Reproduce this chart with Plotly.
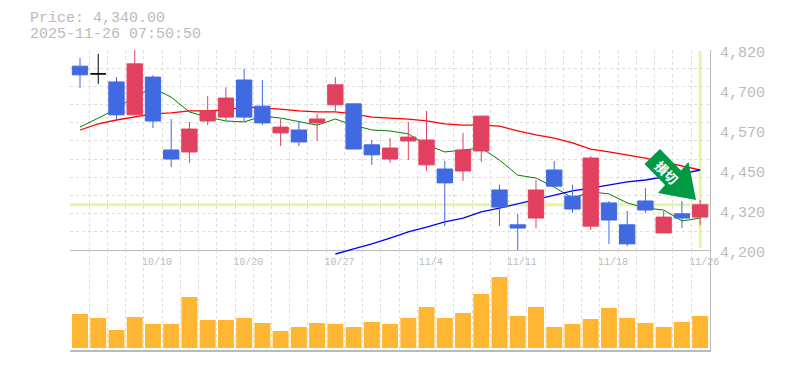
import plotly.graph_objects as go

W, H = 785, 370
ML, MR, MT, MB = 70, 75, 50, 20

dates = ["10/6","10/7","10/8","10/9","10/10","10/14","10/15","10/16","10/17","10/20",
         "10/21","10/22","10/23","10/24","10/27","10/28","10/29","10/30","10/31","11/4",
         "11/5","11/6","11/7","11/10","11/11","11/12","11/13","11/14","11/17","11/18",
         "11/19","11/20","11/21","11/25","11/26"]
labelled_dates = ["10/10","10/20","10/27","11/4","11/11","11/18","11/26"]

opens  = [4770,4746,4721,4619,4736,4510,4504,4600,4612,4727,4646,4563,4572,4594,4650,4653,4526,4482,4538,4464,
          4451,4445,4507,4386,4278,4299,4448,4367,4274,4346,4278,4352,4253,4312,4302]
highs  = [4795,4808,4736,4824,4742,4606,4597,4677,4705,4761,4727,4606,4600,4622,4736,4653,4541,4547,4597,4631,
          4476,4563,4615,4402,4312,4417,4476,4402,4491,4352,4321,4392,4321,4352,4355]
lows   = [4702,4715,4603,4619,4578,4457,4470,4587,4603,4600,4587,4522,4522,4538,4628,4513,4464,4470,4479,4445,
          4274,4414,4473,4274,4200,4268,4398,4315,4262,4219,4212,4315,4253,4268,4277]
closes = [4743,4746,4619,4777,4600,4482,4575,4631,4671,4612,4594,4581,4535,4606,4712,4513,4495,4516,4550,4541,
          4408,4510,4615,4333,4268,4386,4398,4327,4485,4293,4219,4324,4302,4299,4340]

ma_green = [4581,4609,4637,4677,4702,4674,4628,4612,4600,4597,4615,4609,4597,4587,4606,4587,4572,4569,4560,4526,
            4504,4510,4516,4479,4432,4423,4395,4361,4380,4374,4346,4330,4324,4290,4299]
ma_red   = [4572,4591,4603,4612,4622,4625,4631,4631,4634,4643,4640,4637,4631,4628,4628,4622,4612,4609,4606,4600,
            4591,4587,4587,4584,4569,4557,4547,4532,4513,4504,4495,4485,4473,4460,4448]
ma_blue  = [4188,4203,4219,4237,4256,4271,4287,4299,4318,4330,4343,4355,4370,4383,4392,4402,4411,4417,4426,4436,4448]
ma_blue_start = 14
# the start of the blue line dips just under the price panel, over the top of the volume panel
ma_blue_tail = [94, 99]

volumes = [34,30,18,31,24,24,51,28,28,30,25,17,21,25,24,21,26,24,30,41,30,35,54,71,32,41,21,24,29,40,30,25,21,26,32]

price_ticks = [4200,4324,4448,4572,4696,4820]
price_labels = ["4,200","4,320","4,450","4,570","4,700","4,820"]
price_title = "Price: 4,340.00"
time_title = "2025-11-26 07:50:50"
last_price = 4340

GRID = "#DDDDDD"
FRAME = "#BBBBBB"
TXT = "#BBBBBB"
UP = "#E1415F"
DOWN = "#4169E1"
MONO = "Liberation Mono, monospace"

idx = list(range(len(dates)))
up = [i for i in idx if closes[i] > opens[i]]
down = [i for i in idx if closes[i] < opens[i]]
flat = [i for i in idx if closes[i] == opens[i]]

fig = go.Figure()

fig.add_trace(go.Bar(x=idx, y=volumes, width=0.875, marker=dict(color="#FFB733", line_width=0),
                     xaxis="x2", yaxis="y2", hoverinfo="skip"))
fig.add_trace(go.Scatter(x=idx, y=ma_green, mode="lines", line=dict(color="#008000", width=1)))
fig.add_trace(go.Scatter(x=idx, y=ma_red, mode="lines", line=dict(color="#FF0000", width=1.3)))
fig.add_trace(go.Scatter(x=idx[ma_blue_start:], y=ma_blue, mode="lines", line=dict(color="#0000FF", width=1.3)))
fig.add_trace(go.Scatter(x=idx[ma_blue_start:ma_blue_start + 2], y=ma_blue_tail, mode="lines",
                         line=dict(color="#0000FF", width=1.3), xaxis="x2", yaxis="y2"))

def candles(sel, color):
    fig.add_trace(go.Candlestick(
        x=sel,
        open=[opens[i] for i in sel], high=[highs[i] for i in sel],
        low=[lows[i] for i in sel], close=[closes[i] for i in sel],
        increasing=dict(line=dict(color=color, width=1), fillcolor=color),
        decreasing=dict(line=dict(color=color, width=1), fillcolor=color),
        whiskerwidth=0, yaxis="y3"))

candles(up, UP)
candles(down, DOWN)
candles(flat, "#000000")

grid_x = [i - 0.5 for i in range(len(dates) + 1)]
x_text = [dates[i] if dates[i] in labelled_dates else "" for i in idx]
tick_x = [i + 0.5 for i in idx]
x_range = [-0.548, 34.54]

def px_x(v):
    return (v - ML) / (W - ML - MR)

def px_y(v):
    return (H - MB - v) / (H - MT - MB)

arrow_px = [(660,149),(644.5,164),(665,185),(658,193),(696,200),(688.5,162),(681,170.5)]
arrow_path = "M " + " L ".join(f"{px_x(a):.5f},{px_y(b):.5f}" for a, b in arrow_px) + " Z"

price_annotations = [
    dict(text=t, xref="paper", yref="y", x=px_x(718), y=v, yshift=-3, xanchor="left", yanchor="middle",
         showarrow=False, font=dict(size=15, color=TXT, family=MONO))
    for t, v in zip(price_labels, price_ticks)
]

fig.update_layout(
    width=W, height=H, showlegend=False, paper_bgcolor="white", plot_bgcolor="white",
    margin=dict(l=ML, r=MR, t=MT, b=MB, pad=0),
    boxmode="overlay", boxgap=0.16, boxgroupgap=0,
    font=dict(family=MONO, color=TXT),
    xaxis=dict(domain=[0, 1], range=x_range, anchor="y", rangeslider=dict(visible=False), automargin=False,
               tickmode="array", tickvals=tick_x, ticktext=x_text, ticks="", ticklen=0,
               tickangle=0, tickfont=dict(size=10, color=TXT, family=MONO), ticklabelshift=-5,
               ticklabelstandoff=2,
               showgrid=True, gridcolor=GRID, griddash="3px,3px", gridwidth=1,
               minor=dict(tickmode="array", tickvals=grid_x, showgrid=True, gridcolor=GRID,
                          griddash="3px,3px", gridwidth=1, ticks=""),
               showline=True, linecolor=FRAME, linewidth=1, zeroline=False),
    xaxis2=dict(domain=[0, 1], range=x_range, anchor="y2", showticklabels=False, automargin=False,
                tickmode="array", tickvals=grid_x, ticks="",
                showgrid=True, gridcolor=GRID, griddash="3px,3px", gridwidth=1,
                showline=True, linecolor=FRAME, linewidth=2, zeroline=False),
    yaxis=dict(domain=[1/3, 1], range=[4200, 4820], side="right", anchor="x", automargin=False,
               tickmode="array", tickvals=price_ticks, ticks="", showticklabels=False, showgrid=False,
               minor=dict(tickmode="array", tickvals=[4200 + 620 * k / 11 for k in range(12)],
                          showgrid=True, gridcolor=GRID, griddash="3px,3px", gridwidth=1, ticks=""),
               showline=True, linecolor=FRAME, linewidth=1, zeroline=False),
    yaxis3=dict(overlaying="y", range=[4200, 4820], side="right", anchor="x", automargin=False,
                showticklabels=False, ticks="", showgrid=False, showline=False, zeroline=False),
    yaxis2=dict(domain=[0, 1/3], range=[-2, 98], side="right", anchor="x2", showticklabels=False, automargin=False,
                ticks="", showgrid=False, showline=True, linecolor=FRAME, linewidth=1, zeroline=False),
    shapes=[
        dict(type="line", layer="below", xref="paper", x0=0, x1=1, yref="y", y0=last_price, y1=last_price,
             line=dict(color="#E4F5A8", width=3)),
        dict(type="line", layer="below", xref="x", x0=idx[-1], x1=idx[-1], yref="paper",
             y0=px_y(248), y1=px_y(51), line=dict(color="#E4F5A8", width=3)),
        dict(type="path", layer="above", xref="paper", yref="paper", path=arrow_path,
             fillcolor="#009944", line=dict(color="#009944", width=0)),
    ],
    annotations=[
        dict(text=price_title, xref="paper", yref="paper", x=px_x(28), y=px_y(18.5), xanchor="left", yanchor="middle",
             showarrow=False, font=dict(size=15, color=TXT, family=MONO)),
        dict(text=time_title, xref="paper", yref="paper", x=px_x(28), y=px_y(34), xanchor="left", yanchor="middle",
             showarrow=False, font=dict(size=15, color=TXT, family=MONO)),
        dict(text="<b>損切</b>", xref="paper", yref="paper", x=px_x(667), y=px_y(172), xanchor="center", yanchor="middle",
             textangle=45, showarrow=False, font=dict(size=13, color="white", family="Noto Sans CJK JP")),
    ] + price_annotations,
)

fig.write_html("out.html", config=dict(displayModeBar=False),
               post_script="document.body.style.margin='0';document.body.style.overflow='hidden';")
